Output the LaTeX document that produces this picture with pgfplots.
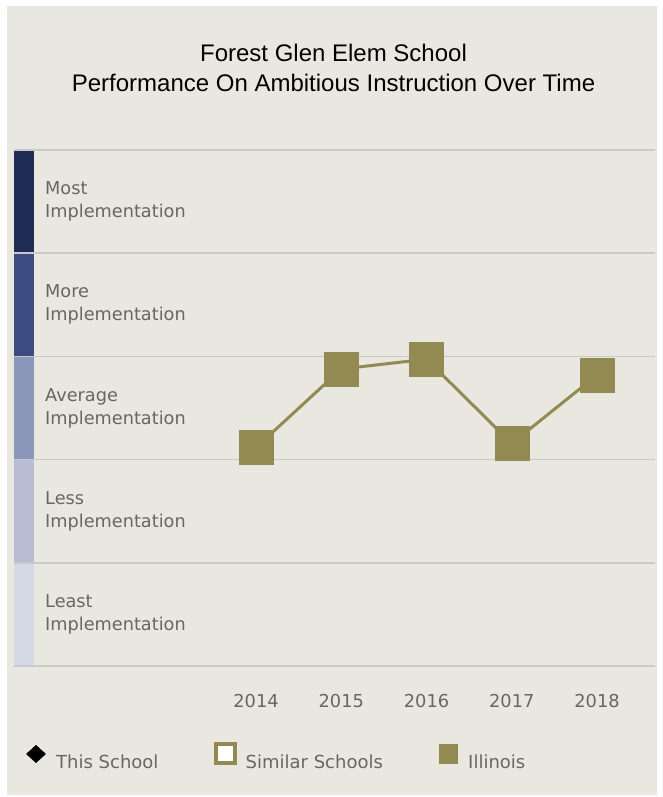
\documentclass[border=0pt]{standalone}
\usepackage{pgfplots}
\pgfplotsset{compat=1.18}
\usepackage{fontspec}
\setmainfont{DejaVu Sans}
\newfontfamily\titlefont{Liberation Sans}
\definecolor{bg}{HTML}{E9E8E0}
\definecolor{olive}{HTML}{938A52}
\definecolor{gridc}{HTML}{C9C9CB}
\definecolor{lab}{HTML}{666666}
\definecolor{bA}{HTML}{1F2D55}
\definecolor{bB}{HTML}{3B4D80}
\definecolor{bC}{HTML}{8A96BA}
\definecolor{bD}{HTML}{B8BDD3}
\definecolor{bE}{HTML}{D5D9E6}
\tikzset{ylab/.style={anchor=west, align=left, inner sep=0, text=lab, xshift=31pt, font=\fontsize{17.7}{23}\selectfont}}
\begin{document}
\begin{tikzpicture}[x=1pt,y=1pt]
\fill[white] (0,0) rectangle (663,797);
\fill[bg] (7,2) rectangle (657,791);
\node[font=\titlefont\fontsize{24}{30}\selectfont, anchor=base, inner sep=0] at (333.5,735) {Forest Glen Elem School};
\node[font=\titlefont\fontsize{24}{30}\selectfont, anchor=base, inner sep=0] at (333.5,705) {Performance On Ambitious Instruction Over Time};
\begin{axis}[
  at={(14pt,131pt)}, anchor=south west,
  width=641pt, height=516pt, scale only axis,
  xmin=-2.839, xmax=4.68, ymin=0, ymax=5,
  axis line style={draw=none},
  ytick={0,1,2,3,4,5}, yticklabels={},
  ymajorgrids, grid style={gridc, line width=1.5pt},
  major tick length=0pt,
  xtick={0,1,2,3,4},
  xticklabels={2014,2015,2016,2017,2018},
  xticklabel style={anchor=base, yshift=-41.5pt, font=\fontsize{17.8}{20}\selectfont, text=lab},
  clip=false,
]
\fill[bE] (axis cs:-2.839,0.008) rectangle (axis cs:-2.604,0.992);
\fill[bD] (axis cs:-2.839,1.008) rectangle (axis cs:-2.604,1.992);
\fill[bC] (axis cs:-2.839,2.008) rectangle (axis cs:-2.604,2.992);
\fill[bB] (axis cs:-2.839,3.008) rectangle (axis cs:-2.604,3.992);
\fill[bA] (axis cs:-2.839,4.008) rectangle (axis cs:-2.604,4.992);
\node[ylab] at (axis cs:-2.839,0.5) {Least\\Implementation};
\node[ylab] at (axis cs:-2.839,1.5) {Less\\Implementation};
\node[ylab] at (axis cs:-2.839,2.5) {Average\\Implementation};
\node[ylab] at (axis cs:-2.839,3.5) {More\\Implementation};
\node[ylab] at (axis cs:-2.839,4.5) {Most\\Implementation};
\addplot[olive, line width=3pt, mark=square*, mark size=17pt, mark options={fill=olive, draw=olive, line width=0.5pt}] coordinates {(0,2.117) (1,2.878) (2,2.973) (3,2.156) (4,2.82)};
\end{axis}
% legend
\fill[black] (26,43) -- (36,52) -- (46,43) -- (36,34) -- cycle;
\node[anchor=base west, inner sep=0, text=lab, font=\fontsize{18}{22}\selectfont] at (56,28) {This School};
\draw[olive, fill=white, line width=4pt] (216,53) rectangle (235,34);
\node[anchor=base west, inner sep=0, text=lab, font=\fontsize{18}{22}\selectfont] at (245.5,28) {Similar Schools};
\fill[olive] (439,53) rectangle (458,33);
\node[anchor=base west, inner sep=0, text=lab, font=\fontsize{18}{22}\selectfont] at (468,28) {Illinois};
\end{tikzpicture}
\end{document}
